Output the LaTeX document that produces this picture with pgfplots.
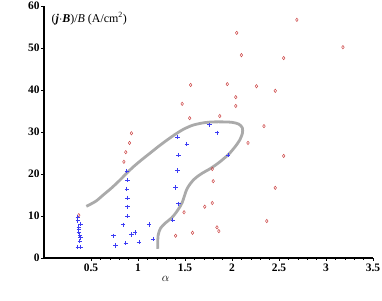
\documentclass[border=0pt]{standalone}
\usepackage{pgfplots}
\pgfplotsset{compat=1.18}
\usepackage{fontspec}
\setmainfont{Liberation Serif}
\definecolor{redpt}{RGB}{205,70,70}
\definecolor{bluept}{RGB}{60,60,245}
\definecolor{curvegray}{RGB}{170,170,170}
\begin{document}
\begin{tikzpicture}[x=1bp,y=1bp]
\path[use as bounding box] (0,0) rectangle (382,301);
\begin{axis}[
  at={(44bp,43bp)}, anchor=origin,
  scale only axis, width=329bp, height=252bp,
  xmin=0, xmax=3.5, ymin=0, ymax=60,
  axis lines*=left,
  axis line style={line width=1.1pt},
  xtick={0.5,1,1.5,2,2.5,3,3.5},
  xticklabels={0.5,1,1.5,2,2.5,3,3.5},
  ytick={0,10,20,30,40,50,60},
  minor x tick num=4,
  tick align=outside,
  major tick length=3bp, minor tick length=2bp,
  tick style={black, line width=0.6pt},
  /pgf/number format/assume math mode=true,
  ticklabel style={font=\fontsize{11.5}{13}\selectfont\bfseries},
  yticklabel style={xshift=2bp},
  xticklabel style={yshift=1bp},
  xlabel={$\alpha$}, xlabel style={at={(axis description cs:0.37,0)}, anchor=north, yshift=-15bp, font=\fontsize{12}{14}\selectfont},
  clip=false,
]
\addplot[curvegray, line width=2.8pt, smooth, tension=0.5] coordinates {
(0.45,12.3) (0.55,13.5) (0.63,15.0) (0.72,16.7) (0.81,18.6) (0.88,20.2) (0.95,21.7) (1.04,23.4) (1.13,25.0) (1.22,26.6) (1.31,28.1) (1.40,29.5) (1.48,30.6) (1.58,31.6) (1.70,32.2) (1.80,32.4) (1.92,32.4) (2.00,32.3) (2.07,31.9) (2.11,31.0) (2.11,29.6) (2.08,28.0) (2.03,26.4) (1.96,24.6) (1.86,22.7) (1.77,21.3) (1.67,20.0) (1.59,18.6) (1.52,16.4) (1.47,13.2) (1.42,11.3) (1.36,9.6) (1.29,8.3) (1.24,7.1) (1.215,5.5) (1.21,3.5) (1.21,2.2)
};
\addplot[only marks, draw=redpt, mark=diamond, mark size=1.7bp, mark options={draw=redpt, line width=0.5pt, fill=white}] coordinates {
(2.69,56.7) (2.05,53.6) (2.10,48.3) (3.18,50.2) (2.55,47.6)
(1.56,41.2) (1.95,41.4) (2.26,40.9) (2.46,39.8) (2.04,38.3)
(2.04,36.2) (1.47,36.7) (1.55,33.3) (1.87,33.8) (2.34,31.4)
(2.17,27.4) (2.55,24.3) (1.79,21.2) (1.80,18.3) (2.46,16.7)
(1.79,13.1) (1.71,12.2) (1.58,6.0) (1.84,7.3) (1.86,6.4)
(2.37,8.8) (1.49,10.9) (1.40,5.3) (0.37,10.2) (0.93,29.7)
(0.91,27.4) (0.87,25.2) (0.85,22.9)
};
\addplot[only marks, draw=bluept, mark=+, mark size=2.2bp, mark options={draw=bluept, line width=0.8pt}] coordinates {
(0.36,9.6) (0.36,8.9) (0.39,8.1) (0.37,7.3) (0.37,6.7) (0.37,6.2)
(0.38,5.4) (0.39,4.8) (0.38,4.0) (0.36,2.6) (0.39,2.6)
(0.88,20.7) (0.89,18.5) (0.88,16.4) (0.89,14.3) (0.89,12.2) (0.89,10.0)
(0.84,7.9) (0.74,5.3) (0.76,3.0) (0.87,3.5) (0.93,5.6) (0.97,6.1)
(1.01,3.8) (1.12,8.0) (1.16,4.5)
(1.43,12.9) (1.37,9.0) (1.40,16.8) (1.42,20.8) (1.43,24.5) (1.42,28.8)
(1.52,27.1) (1.76,31.7) (1.84,29.8) (1.96,24.5)
};
\node[anchor=west, font=\fontsize{12}{14}\selectfont, inner sep=0pt] at (axis cs:0.08,57.0) {(\textbf{\textit{j}}$\cdot$\textbf{\textit{B}})/\textit{B} (A/cm\textsuperscript{2})};
\end{axis}
\end{tikzpicture}
\end{document}
